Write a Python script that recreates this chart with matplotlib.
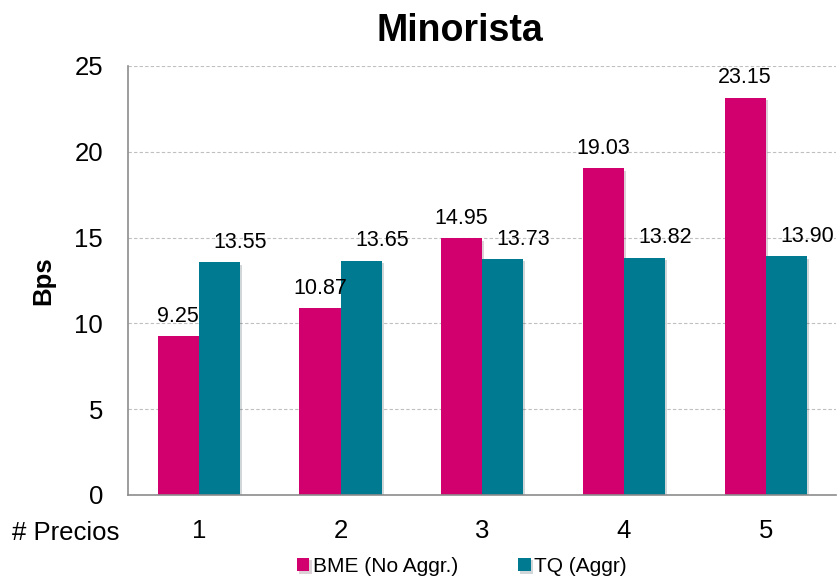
import matplotlib
matplotlib.use("Agg")
import matplotlib.pyplot as plt
import matplotlib.patheffects as pe
import numpy as np

plt.rcParams['font.family'] = ['Liberation Sans', 'DejaVu Sans']

categories = ["1", "2", "3", "4", "5"]
bme = [9.25, 10.87, 14.95, 19.03, 23.15]
tq = [13.55, 13.65, 13.73, 13.82, 13.90]
series_names = ["BME (No Aggr.)", "TQ (Aggr)"]
yticks = [0, 5, 10, 15, 20, 25]

c_bme = "#D2006F"
c_tq = "#007A91"

fig = plt.figure(figsize=(8.38, 5.83), dpi=100)
ax = fig.add_axes([0.1527, 0.151, 0.8455, 0.7358])

x = np.arange(1, len(categories) + 1)
w = 0.29
shadow = [pe.SimplePatchShadow(offset=(1.5, -1.5), alpha=0.18), pe.Normal()]
b1 = ax.bar(x - w / 2, bme, w, color=c_bme, label=series_names[0], zorder=3)
b2 = ax.bar(x + w / 2, tq, w, color=c_tq, label=series_names[1], zorder=3)
for p in list(b1) + list(b2):
    p.set_path_effects(shadow)

for xi, v in zip(x, bme):
    ax.annotate(f"{v:.2f}", (xi - w / 2, v), xytext=(0, 7), textcoords="offset points",
                ha="center", va="bottom", fontsize=15.5)
for xi, v in zip(x, tq):
    ax.annotate(f"{v:.2f}", (xi + w / 2, v), xytext=(15, 7), textcoords="offset points",
                ha="center", va="bottom", fontsize=15.5)

ax.set_xlim(0.5, 5.5)
ax.set_ylim(0, 25)
ax.set_yticks(yticks)
ax.set_xticks(x)
ax.set_xticklabels(categories)
ax.tick_params(axis="both", length=0, labelsize=18.5)
ax.tick_params(axis="x", pad=17)
ax.tick_params(axis="y", pad=18)
ax.yaxis.grid(True, linestyle=(0, (3, 2)), color="#BFBFBF", linewidth=0.8, zorder=0)
ax.set_axisbelow(True)
for s in ["top", "right"]:
    ax.spines[s].set_visible(False)
for s in ["left", "bottom"]:
    ax.spines[s].set_color("#8C8C8C")
    ax.spines[s].set_linewidth(1.2)
ax.spines["bottom"].set_zorder(4)

ax.set_title("Minorista", fontsize=27, fontweight="bold", pad=18, x=0.468)
ax.set_ylabel("Bps", fontsize=18.5, fontweight="bold", labelpad=14)
fig.text(12, 583 - 533, "# Precios", transform=None, fontsize=18.5, va="center", ha="left")

leg = fig.legend(handles=[b1, b2], loc="center", bbox_to_anchor=(0.551, 0.028), ncol=2,
                 frameon=False, fontsize=15, handlelength=0.6, handleheight=0.6,
                 handletextpad=0.15, columnspacing=2.9, borderaxespad=0)

fig.savefig("out.png", dpi=100)
